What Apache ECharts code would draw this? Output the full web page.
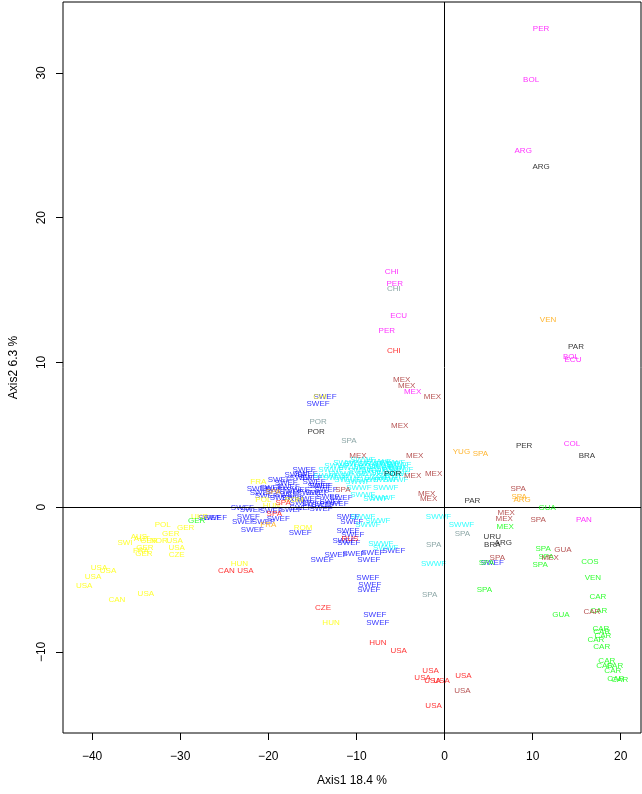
<!DOCTYPE html>
<html><head><meta charset="utf-8">
<script src="https://cdn.jsdelivr.net/npm/echarts@6/dist/echarts.min.js"></script>
<style>html,body{margin:0;padding:0;background:#fff}#c{width:642px;height:794px}</style>
</head><body><div id="c"></div>
<script>
// Axis titles and ticks
const xTitle = 'Axis1 18.4 %';
const yTitle = 'Axis2 6.3 %';
const xTicks = [-40, -30, -20, -10, 0, 10, 20];
const yTicks = [-10, 0, 10, 20, 30];

// Points per group: [Axis1, Axis2, label]
const blueSWEF = [
  [-15.93,2.55,'SWEF'],[-15.71,2.34,'SWEF'],[-16.27,2.0,'SWEF'],[-17.97,1.66,'SWEF'],[-17.74,1.38,'SWEF'],
  [-14.80,1.72,'SWEF'],[-14.01,1.45,'SWEF'],[-16.61,1.17,'SWEF'],[-15.48,0.97,'SWEF'],[-17.97,0.83,'SWEF'],
  [-18.53,0.62,'SWEF'],[-17.18,0.62,'SWEF'],[-15.48,0.55,'SWEF'],[-13.22,0.69,'SWEF'],[-12.88,0.34,'SWEF'],
  [-14.92,0.21,'SWEF'],[-14.24,1.45,'SWEF'],[-16.84,2.21,'SWEF'],[-15.14,2.0,'SWEF'],[-13.45,1.17,'SWEF'],
  [-17.40,1.03,'SWEF'],[-16.27,0.28,'SWEF'],[-14.46,0.97,'SWEF'],[-13.79,0.14,'SWEF'],[-12.20,0.21,'SWEF'],
  [-11.75,0.62,'SWEF'],[-19.10,1.17,'SWEF'],[-19.66,1.31,'SWEF'],[-18.76,1.86,'SWEF'],[-20.23,0.76,'SWEF'],
  [-13.56,7.66,'SWEF'],[-14.35,7.17,'SWEF'],[-21.13,1.24,'SWEF'],[-20.79,0.97,'SWEF'],[-21.81,-1.59,'SWEF'],
  [-16.38,-1.79,'SWEF'],[-22.26,-0.69,'SWEF'],[-22.82,-1.03,'SWEF'],[-18.87,-0.83,'SWEF'],[-16.27,-0.07,'SWEF'],
  [-17.40,-0.21,'SWEF'],[-21.92,-0.21,'SWEF'],[-22.94,-0.07,'SWEF'],[-20.56,-1.03,'SWEF'],[-19.66,-0.28,'SWEF'],
  [-14.01,-0.14,'SWEF'],[-26.67,-0.76,'SWEF'],[-25.99,-0.76,'SWEF'],[-10.96,-0.69,'SWEF'],[-10.51,-1.03,'SWEF'],
  [-10.96,-1.66,'SWEF'],[-10.40,-1.93,'SWEF'],[-11.41,-2.34,'SWEF'],[-10.85,-2.48,'SWEF'],[-5.76,-3.03,'SWEF'],
  [-12.32,-3.31,'SWEF'],[-10.28,-3.24,'SWEF'],[-8.14,-3.17,'SWEF'],[-13.90,-3.66,'SWEF'],[-8.59,-3.66,'SWEF'],
  [-8.70,-4.90,'SWEF'],[-8.47,-5.38,'SWEF'],[-8.59,-5.72,'SWEF'],[-7.91,-7.45,'SWEF'],[-7.57,-8.0,'SWEF'],
  [5.42,-3.86,'SWEF']
];
const cyanSWWF = [
  [-12.88,2.55,'SWWF'],[-12.20,2.83,'SWWF'],[-11.75,2.34,'SWWF'],[-11.19,3.10,'SWWF'],[-10.62,2.69,'SWWF'],
  [-10.40,2.14,'SWWF'],[-9.94,2.97,'SWWF'],[-9.49,2.48,'SWWF'],[-9.27,3.24,'SWWF'],[-8.93,2.76,'SWWF'],
  [-8.59,2.28,'SWWF'],[-8.36,3.03,'SWWF'],[-8.02,2.55,'SWWF'],[-7.68,2.0,'SWWF'],[-7.46,3.17,'SWWF'],
  [-7.23,2.76,'SWWF'],[-6.89,2.41,'SWWF'],[-6.55,2.97,'SWWF'],[-6.33,2.62,'SWWF'],[-6.10,2.14,'SWWF'],
  [-5.88,3.10,'SWWF'],[-5.65,2.69,'SWWF'],[-5.42,2.28,'SWWF'],[-5.20,2.90,'SWWF'],[-4.97,2.55,'SWWF'],
  [-11.07,1.86,'SWWF'],[-9.83,1.72,'SWWF'],[-8.59,1.86,'SWWF'],[-12.32,2.0,'SWWF'],[-13.45,2.14,'SWWF'],
  [-6.67,1.86,'SWWF'],[-5.54,1.86,'SWWF'],[-9.27,0.83,'SWWF'],[-7.01,0.62,'SWWF'],[-9.72,1.31,'SWWF'],
  [-6.67,1.31,'SWWF'],[-7.80,0.55,'SWWF'],
  [-9.27,-0.69,'SWWF'],[-7.57,-0.97,'SWWF'],[-8.70,-1.24,'SWWF'],[-7.23,-2.55,'SWWF'],[-6.67,-2.83,'SWWF'],
  [-0.68,-0.69,'SWWF'],[1.92,-1.24,'SWWF'],[-1.24,-3.93,'SWWF']
];
const yellowPts = [
  [-14.12,7.66,'CHI'],[-21.13,1.72,'FRA'],[-20.56,0.48,'POL'],[-17.06,0.48,'ROM'],[-19.66,0.07,'HUN'],
  [-16.05,-1.45,'ROM'],[-23.28,-3.93,'HUN'],[-12.88,-8.0,'HUN'],[-27.80,-0.69,'UKR'],[-31.98,-1.24,'POL'],
  [-29.38,-1.45,'GER'],[-31.07,-1.86,'GER'],[-36.27,-2.48,'SWI'],[-34.69,-2.07,'AUS'],[-34.35,-2.21,'AUT'],
  [-33.56,-2.34,'GER'],[-32.43,-2.34,'NOR'],[-30.62,-2.34,'USA'],[-34.01,-2.83,'GER'],[-34.46,-3.03,'FRA'],
  [-34.12,-3.24,'GER'],[-30.40,-2.83,'USA'],[-30.40,-3.31,'CZE'],[-39.21,-4.21,'USA'],[-38.19,-4.41,'USA'],
  [-39.89,-4.83,'USA'],[-40.90,-5.45,'USA'],[-37.18,-6.41,'CAN'],[-33.90,-6.0,'USA']
];
const greenPts = [
  [-28.14,-0.97,'GER'],[11.64,-0.07,'GUA'],[6.89,-1.38,'MEX'],[11.19,-2.90,'SPA'],[4.75,-3.86,'SPA'],
  [11.53,-3.45,'SPA'],[10.85,-4.0,'SPA'],[16.5,-3.79,'COS'],[16.84,-4.90,'VEN'],[4.52,-5.72,'SPA'],
  [17.40,-6.21,'CAR'],[17.51,-7.17,'CAR'],[13.22,-7.45,'GUA'],[17.74,-8.41,'CAR'],[17.85,-8.62,'CAR'],
  [17.97,-8.90,'CAR'],[17.18,-9.17,'CAR'],[17.85,-9.66,'CAR'],[18.42,-10.62,'CAR'],[18.19,-10.97,'CAR'],
  [19.32,-10.97,'CAR'],[19.10,-11.31,'CAR'],[19.44,-11.86,'CAR'],[19.89,-11.93,'CAR']
];
const grayPts = [
  [-5.76,15.10,'CHI'],[-10.85,4.62,'SPA'],[-14.35,5.93,'POR'],[2.03,-1.86,'SPA'],[-1.24,-2.62,'SPA'],
  [-1.69,-6.07,'SPA']
];
const blackPts = [
  [10.96,23.52,'ARG'],[14.92,11.10,'PAR'],[9.04,4.21,'PER'],[16.16,3.52,'BRA'],[-5.88,2.34,'POR'],
  [-14.58,5.24,'POR'],[3.16,0.41,'PAR'],[5.42,-2.07,'URU'],[5.42,-2.62,'BRA'],[6.67,-2.48,'ARG']
];
const orangePts = [
  [-19.44,1.03,'SPA'],[-20.0,-1.24,'FRA'],[11.75,12.97,'VEN'],[1.92,3.86,'YUG'],[4.07,3.66,'SPA'],
  [8.47,0.69,'SPA'],[8.81,0.48,'ARG']
];
const magentaPts = [
  [10.96,33.03,'PER'],[9.83,29.52,'BOL'],[8.93,24.62,'ARG'],[-5.99,16.28,'CHI'],[-5.65,15.45,'PER'],
  [-5.20,13.24,'ECU'],[-6.55,12.21,'PER'],[-3.62,8.0,'MEX'],[14.35,10.41,'BOL'],[14.58,10.21,'ECU'],
  [14.46,4.41,'COL'],[15.82,-0.90,'PAN']
];
const brownPts = [
  [-4.86,8.83,'MEX'],[-4.29,8.41,'MEX'],[-1.36,7.66,'MEX'],[-5.08,5.59,'MEX'],[-9.83,3.52,'MEX'],
  [-3.39,3.52,'MEX'],[-3.62,2.14,'MEX'],[-1.24,2.28,'MEX'],[-2.03,0.90,'MEX'],[-1.81,0.55,'MEX'],
  [8.36,1.24,'SPA'],[7.01,-0.41,'MEX'],[6.78,-0.83,'MEX'],[10.62,-0.90,'SPA'],[13.45,-2.97,'GUA'],
  [5.99,-3.52,'SPA'],[11.98,-3.52,'MEX'],[16.72,-7.24,'CAR'],[2.03,-12.69,'USA'],[-11.53,1.17,'SPA']
];
const redPts = [
  [-18.31,0.28,'SPA'],[-19.32,-0.48,'SPA'],[-10.73,-2.21,'RUS'],[-24.75,-4.41,'CAN'],[-22.60,-4.41,'USA'],
  [-13.79,-6.97,'CZE'],[-7.57,-9.38,'HUN'],[-5.20,-9.93,'USA'],[-1.58,-11.31,'USA'],[-2.49,-11.79,'USA'],
  [-1.36,-12.0,'USA'],[-0.34,-12.0,'USA'],[-1.24,-13.72,'USA'],[2.15,-11.66,'USA'],[-5.76,10.83,'CHI']
];

const groups = [
  [blueSWEF, '#0000FF'], [cyanSWWF, '#00FFFF'], [yellowPts, '#FFFF00'], [greenPts, '#00FF00'],
  [grayPts, '#6F9090'], [blackPts, '#000000'], [orangePts, '#FFA500'], [magentaPts, '#FF00FF'],
  [brownPts, '#A52A2A'], [redPts, '#FF0000']
];
const FONT = 'Liberation Sans, Arial, Helvetica, sans-serif';

const series = groups.map(([pts, col], i) => ({
  type: 'scatter',
  symbol: 'circle',
  symbolSize: 1,
  itemStyle: { color: 'rgba(0,0,0,0)' },
  silent: true,
  data: pts.map(p => ({ value: [p[0], p[1]], name: p[2] })),
  label: {
    show: true, position: 'inside', formatter: '{b}',
    color: col, fontSize: 8, fontFamily: FONT
  },
  labelLayout: { hideOverlap: false },
  z: 2 + i
}));
series.push({
  type: 'scatter', data: [], silent: true,
  markLine: {
    silent: true, symbol: ['none', 'none'], label: { show: false },
    lineStyle: { color: '#000', width: 1, type: 'solid' },
    emphasis: { disabled: true },
    data: [{ xAxis: 0 }, { yAxis: 0 }]
  },
  z: 1
});

const chart = echarts.init(document.getElementById('c'), null, { renderer: 'canvas' });
const minus = v => String(v).replace('-', '\u2212');
chart.setOption({
  animation: false,
  backgroundColor: '#fff',
  grid: { left: 61, right: 1, top: 2, bottom: 61, show: true, borderColor: '#000', borderWidth: 1, backgroundColor: 'transparent' },
  xAxis: {
    type: 'value', min: -43.3, max: 22.3,
    name: xTitle, nameLocation: 'middle', nameGap: 42,
    nameTextStyle: { fontSize: 12, color: '#000', fontFamily: FONT },
    axisLine: { show: false, onZero: false },
    axisTick: { show: true, customValues: xTicks, length: 7, inside: false, lineStyle: { color: '#000' } },
    axisLabel: { customValues: xTicks, margin: 18, fontSize: 12, color: '#000', fontFamily: FONT, formatter: minus },
    splitLine: { show: false }
  },
  yAxis: {
    type: 'value', min: -15.6, max: 34.9,
    name: yTitle, nameLocation: 'middle', nameGap: 43, nameRotate: 90,
    nameTextStyle: { fontSize: 12, color: '#000', fontFamily: FONT },
    axisLine: { show: false, onZero: false },
    axisTick: { show: true, customValues: yTicks, length: 7, inside: false, lineStyle: { color: '#000' } },
    axisLabel: { customValues: yTicks, margin: 15, rotate: 90, fontSize: 12, color: '#000', fontFamily: FONT, formatter: minus },
    splitLine: { show: false }
  },
  series
});
</script></body></html>
